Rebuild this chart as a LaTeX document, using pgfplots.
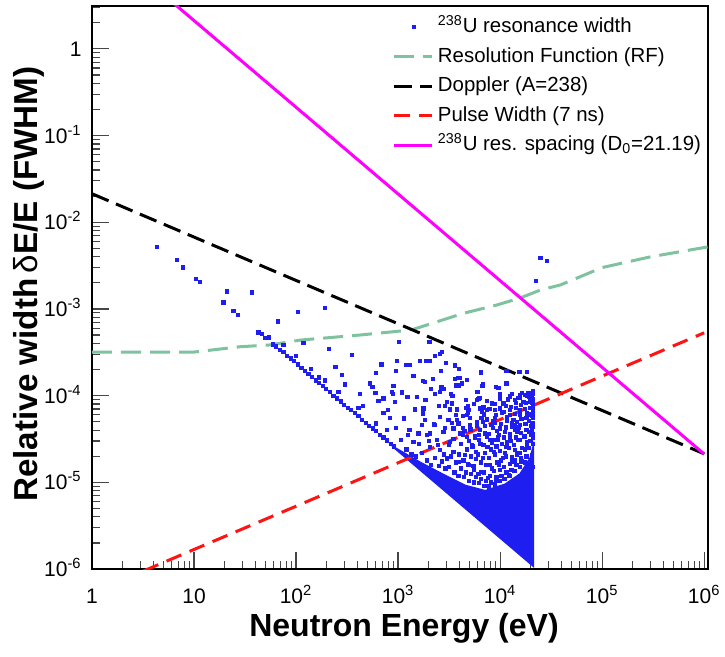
\documentclass[border=0pt]{standalone}
\usepackage{fontspec}
\setmainfont{Liberation Sans}
\usepackage{pgfplots}
\pgfplotsset{compat=1.18}
\definecolor{ptblue}{RGB}{30,30,240}
\definecolor{rfgreen}{RGB}{127,194,160}
\definecolor{pulsered}{RGB}{255,20,20}
\definecolor{spmag}{RGB}{255,0,255}
\definecolor{tickgray}{RGB}{70,70,70}
\pgfplotsset{
  linelegend/.style={legend image code/.code={\draw[##1] (0pt,0pt) -- (19pt,0pt);}},
  dotlegend/.style={legend image code/.code={\draw[##1] plot coordinates {(9.5pt,0pt)};}},
}
\begin{document}
\begin{tikzpicture}
\begin{axis}[
  scale only axis, width=308pt, height=281.5pt,
  xmode=log, ymode=log,
  xmin=1, xmax=1.09e6, ymin=1e-6, ymax=3.12,
  axis line style={line width=0.7pt},
  tickwidth=8.5pt, subtickwidth=4.2pt,
  tick align=inside, tick pos=left,
  tick style={draw=tickgray, line width=0.6pt},
  xtick={1,10,100,1000,10000,100000,1000000},
  xticklabels={1,10,10\textsuperscript{2},10\textsuperscript{3},10\textsuperscript{4},10\textsuperscript{5},10\textsuperscript{6}},
  minor xtick={2,3,4,5,6,7,8,9,20,30,40,50,60,70,80,90,200,300,400,500,600,700,800,900,2000,3000,4000,5000,6000,7000,8000,9000,2e4,3e4,4e4,5e4,6e4,7e4,8e4,9e4,2e5,3e5,4e5,5e5,6e5,7e5,8e5,9e5},
  ytick={1e-6,1e-5,1e-4,1e-3,1e-2,1e-1,1},
  yticklabels={10\textsuperscript{-6},10\textsuperscript{-5},10\textsuperscript{-4},10\textsuperscript{-3},10\textsuperscript{-2},10\textsuperscript{-1},1},
  minor ytick={2e-6,3e-6,4e-6,5e-6,6e-6,7e-6,8e-6,9e-6,2e-5,3e-5,4e-5,5e-5,6e-5,7e-5,8e-5,9e-5,2e-4,3e-4,4e-4,5e-4,6e-4,7e-4,8e-4,9e-4,2e-3,3e-3,4e-3,5e-3,6e-3,7e-3,8e-3,9e-3,0.02,0.03,0.04,0.05,0.06,0.07,0.08,0.09,0.2,0.3,0.4,0.5,0.6,0.7,0.8,0.9,2,3},
  tick label style={font=\fontsize{10.5pt}{12pt}\selectfont, inner sep=0pt},
  xticklabel style={anchor=base, yshift=-17pt},
  yticklabel style={anchor=base east, xshift=-5pt, yshift=-3.75pt},
  xlabel={Neutron Energy (eV)},
  ylabel={Relative width\,{\mdseries δ}E/E (FWHM)},
  every axis x label/.style={at={(axis description cs:0.5065,-0.119)}, anchor=base, font=\fontsize{16pt}{19pt}\selectfont\bfseries},
  every axis y label/.style={at={(axis description cs:-0.0877,0.506)}, rotate=90, anchor=base, font=\fontsize{16.6pt}{19pt}\selectfont\bfseries},
  linelegend,
  legend cell align=left,
  legend style={at={(rel axis cs:0.4886,0.9813)}, anchor=north west, draw=none, fill=none,
    inner sep=0pt, outer sep=0pt, row sep=4.25pt, column sep=2pt,
    nodes={inner sep=0pt, text height=8pt, text depth=2.5pt},
    font=\fontsize{10.2pt}{12pt}\selectfont},
]
% dense core of the resonance cloud
\addplot[forget plot, fill=ptblue, draw=ptblue, line width=0.8pt, no markers] coordinates {
 (873,2.62e-5) (1644,1.7e-5) (2891,1.2e-5) (4539,9.2e-6) (7129,8.0e-6)
 (11200,9.5e-6) (15700,1.25e-5) (19700,1.9e-5) (21100,2.6e-5) (21100,1.08e-6)} -- cycle;
\addplot[only marks, mark=square*, mark size=0.82pt, ptblue, line width=0.3pt, dotlegend] table {
x y
4.31 5.25e-3
6.77 3.7e-3
7.75 3.03e-3
10.4 2.24e-3
11.3 2.05e-3
19.4 1.19e-3
20.9 1.6e-3
24.3 9.5e-4
26.9 8.5e-4
36.8 1.56e-3
66 7.2e-4
104 9.2e-4
192 1.03e-3
22200 2.11e-3
24800 3.89e-3
28700 3.56e-3
42.7 5.39e-4
46.2 5.2e-4
50.1 4.6e-4
54.3 4.7e-4
58.9 3.9e-4
63.8 3.7e-4
69.2 3.4e-4
75.0 3.2e-4
81.3 2.9e-4
88.1 2.7e-4
95.5 2.5e-4
103.5 2.3e-4
112.2 2.1e-4
121.6 1.95e-4
131.8 1.8e-4
142.9 1.65e-4
154.9 1.5e-4
167.9 1.4e-4
182 1.3e-4
197.2 1.2e-4
213.8 1.1e-4
231.7 1.0e-4
251.2 9.3e-5
272.3 8.6e-5
295.1 7.9e-5
319.9 7.3e-5
346.7 6.8e-5
375.8 6.3e-5
407.4 5.8e-5
441.6 5.3e-5
478.6 4.9e-5
518.8 4.5e-5
562.3 4.2e-5
609.5 3.9e-5
660.7 3.55e-5
716.1 3.3e-5
776.2 3.05e-5
841.4 2.8e-5
912 2.6e-5
75 3.83e-4
100 2.9e-4
140 2.05e-4
190 1.5e-4
260 1.1e-4
400 7.2e-5
600 4.8e-5
118 4.07e-4
211 3.45e-4
354 2.94e-4
243 2.15e-4
281 1.73e-4
302 1.35e-4
168 1.63e-4
418 1.04e-4
686 2.3e-4
608 1.84e-4
531 1.39e-4
560 1.27e-4
599 1.08e-4
641 8.7e-5
718 9.3e-5
451 7.6e-5
408 7.3e-5
718 6.35e-5
1023 4.19e-4
2027 4.19e-4
2680 3.21e-4
2581 3.02e-4
971 2.51e-4
1197 2.27e-4
1311 2.27e-4
1644 2.53e-4
1883 2.53e-4
2060 2.53e-4
2306 2.87e-4
2956 2.39e-4
949 1.92e-4
2641 1.92e-4
3963 2.04e-4
6471 1.86e-4
15450 1.89e-4
18300 1.89e-4
1413 1.68e-4
2188 1.57e-4
3849 1.61e-4
4055 1.62e-4
4677 1.51e-4
1742 1.49e-4
1840 1.44e-4
6700 1.3e-4
9141 1.27e-4
11460 1.39e-4
899 1.3e-4
2658 1.25e-4
2780 1.19e-4
3704 1.32e-4
3937 1.32e-4
2107 1.2e-4
867 1.11e-4
888 1.05e-4
1087 1.09e-4
2581 1.11e-4
5987 1.11e-4
729 9.47e-5
1233 9.7e-5
1524 9.7e-5
1853 8.9e-5
3004 8.5e-5
3360 8.15e-5
4822 7.66e-5
5907 8.9e-5
7413 8.7e-5
8298 8.15e-5
10000 9.3e-5
935 8.5e-5
1459 6.95e-5
1771 7.15e-5
2523 7.6e-5
2891 7.6e-5
3758 6.95e-5
4888 6.83e-5
6367 7.15e-5
6855 7.33e-5
8933 6.83e-5
13100 1.04e-4
15000 9.4e-5
16400 1.07e-4
18400 9.9e-5
20100 1.07e-4
19700 8.9e-5
14000 8.9e-5
3597 2.23e-4
11460 1.94e-4
3622 1.55e-4
4178 1.39e-4
3899 1.29e-4
6761 1.35e-4
9616 1.23e-4
2306 1.04e-4
3287 1.04e-4
3405 9.9e-5
15700 1.02e-4
18900 1.06e-4
4642 8.9e-5
6124 9.14e-5
10760 8.15e-5
11800 9.06e-5
14350 8.28e-5
16900 8.5e-5
1742 6.25e-5
3236 6.95e-5
2581 5.71e-5
4296 5.82e-5
4710 5.97e-5
6607 6.52e-5
7413 6.83e-5
10000 7.15e-5
12530 6.83e-5
15700 6.83e-5
18300 6.25e-5
3112 5.24e-5
3360 4.87e-5
5082 4.58e-5
5912 5.0e-5
7413 5.33e-5
8590 5.13e-5
11640 5.71e-5
13500 5.24e-5
15700 5.97e-5
2060 3.67e-5
3483 4.2e-5
4055 3.67e-5
4710 3.36e-5
6367 4.01e-5
7129 3.67e-5
10000 4.2e-5
11200 3.83e-5
13020 4.38e-5
15700 4.58e-5
18300 4.01e-5
20500 4.8e-5
1146 5.47e-5
775 4.01e-5
949 4.27e-5
1062 3.08e-5
1291 4.01e-5
1413 2.94e-5
1581 3.67e-5
1706 4.58e-5
1910 3.51e-5
2060 2.58e-5
2254 4.67e-5
2395 3.08e-5
2581 2.36e-5
2780 3.83e-5
3004 1.89e-5
3236 2.94e-5
3483 2.25e-5
3899 1.73e-5
4306 3.51e-5
4539 2.07e-5
4888 1.58e-5
5309 2.69e-5
5821 2.24e-5
6223 3.08e-5
6808 1.91e-5
7464 2.55e-5
7980 1.58e-5
8730 2.24e-5
9354 3.08e-5
10000 1.39e-5
10700 1.91e-5
11460 2.55e-5
12250 1.21e-5
13120 1.71e-5
14030 2.36e-5
15000 3.08e-5
16070 1.91e-5
17180 1.31e-5
18400 2.69e-5
19680 1.58e-5
20600 2.07e-5
5559 1.39e-5
6516 1.31e-5
7628 1.12e-5
9141 1.06e-5
20140 3.51e-5
14690 3.8e-5
9550 3.33e-5
20900 2.8e-5
21000 3.6e-5
20700 4.4e-5
21000 5.5e-5
20800 6.6e-5
21000 7.8e-5
20500 9.6e-5
21000 1.12e-4
20300 1.9e-5
21000 1.5e-5
1840 5.24e-5
2306 4.58e-5
2891 4.23e-5
3786 5.24e-5
4336 4.23e-5
5082 5.52e-5
5689 3.42e-5
7980 3.08e-5
8531 4.23e-5
12530 3.24e-5
14030 4.58e-5
8933 5.52e-5
6808 4.96e-5
835 5.52e-5
798 6.83e-5
1200 2.4e-5
1350 2.1e-5
1500 2.0e-5
1700 2.2e-5
1900 1.8e-5
2100 1.6e-5
2300 1.9e-5
2500 1.55e-5
2700 1.75e-5
2900 1.45e-5
1250 3.5e-5
1600 2.8e-5
2000 3.0e-5
2450 2.7e-5
2800 2.1e-5
3150 1.5e-5
3280 2.0e-5
3120 2.7e-5
3550 1.3e-5
3700 1.7e-5
3480 3.2e-5
3650 6.0e-5
3900 1.2e-5
4100 1.45e-5
3950 2.1e-5
4150 2.8e-5
3880 4.8e-5
4400 1.15e-5
4600 1.3e-5
4350 1.8e-5
4700 2.4e-5
4450 3.9e-5
4650 7.2e-5
4900 1.05e-5
5150 1.25e-5
4850 1.65e-5
5200 2.0e-5
4950 3.0e-5
5100 4.1e-5
4800 6.3e-5
5500 1.0e-5
5750 1.15e-5
5450 1.55e-5
5800 1.85e-5
5350 2.6e-5
5650 3.3e-5
5900 4.5e-5
5500 8.1e-5
6200 9.8e-6
6450 1.1e-5
6100 1.25e-5
6500 1.7e-5
6050 2.1e-5
6400 2.8e-5
6150 3.5e-5
6550 5.6e-5
6250 9.5e-5
7000 9.2e-6
7250 1.05e-5
6900 1.3e-5
7300 1.6e-5
7050 2.2e-5
6850 2.7e-5
7350 3.4e-5
7100 4.5e-5
6950 6.1e-5
7800 9.0e-6
8150 1.0e-5
7900 1.2e-5
8250 1.45e-5
7700 1.9e-5
8100 2.4e-5
8300 2.9e-5
7750 3.6e-5
8200 4.6e-5
7850 7.0e-5
8800 9.5e-6
9200 1.15e-5
8700 1.35e-5
9300 1.7e-5
8900 2.1e-5
9150 2.6e-5
8650 3.1e-5
9250 3.9e-5
8850 4.9e-5
9100 6.0e-5
8750 8.0e-5
9800 1.05e-5
10300 1.2e-5
9700 1.6e-5
10200 1.8e-5
9900 2.3e-5
10400 2.8e-5
9750 3.5e-5
10100 4.7e-5
10350 6.3e-5
9850 1.05e-4
11000 1.1e-5
11500 1.3e-5
10900 1.5e-5
11400 2.0e-5
11100 2.2e-5
11600 2.9e-5
10850 3.3e-5
11300 4.3e-5
11550 5.2e-5
10950 6.5e-5
11350 7.7e-5
12300 1.2e-5
12900 1.4e-5
12400 1.65e-5
13000 1.95e-5
12200 2.5e-5
12800 3.0e-5
12500 3.6e-5
12950 4.9e-5
12350 6.0e-5
12700 7.5e-5
12450 9.8e-5
13800 1.35e-5
14400 1.6e-5
13900 1.8e-5
14500 2.1e-5
13700 2.7e-5
14300 3.3e-5
14000 4.1e-5
14450 5.0e-5
13850 6.2e-5
14250 7.3e-5
13950 9.0e-5
15500 1.5e-5
16100 1.75e-5
15400 2.2e-5
16200 2.5e-5
15600 3.1e-5
16000 3.7e-5
15300 4.3e-5
16150 5.4e-5
15550 6.4e-5
15900 7.8e-5
15450 9.5e-5
17400 1.7e-5
18100 2.0e-5
17500 2.4e-5
18200 2.9e-5
17300 3.4e-5
17900 4.0e-5
17600 4.7e-5
18050 5.6e-5
17450 7.0e-5
17850 8.3e-5
17550 1.03e-4
19200 2.5e-5
19800 3.0e-5
19300 3.8e-5
19900 4.5e-5
19100 5.1e-5
19600 6.1e-5
19400 7.2e-5
19750 8.5e-5
19250 9.8e-5
20800 3.3e-5
20600 4.0e-5
20900 4.9e-5
20700 5.9e-5
20950 7.0e-5
20650 8.2e-5
20850 9.1e-5
20750 1.05e-4
};
\addlegendentry{\textsuperscript{238}U resonance width}
\addplot[rfgreen, line width=1.5pt, dash pattern=on 10pt off 4.5pt, no markers] coordinates {
 (1,3.18e-4) (10,3.18e-4) (28,3.66e-4) (55,3.84e-4) (110,4.37e-4) (424,5.0e-4)
 (1050,5.56e-4) (1413,5.82e-4) (4365,8.9e-4) (9290,1.11e-3) (15800,1.34e-3)
 (24700,1.65e-3) (39000,1.89e-3) (100000,3.0e-3) (295000,3.98e-3) (1090000,5.2e-3)};
\addlegendentry{Resolution Function (RF)}
\addplot[black, line width=1.5pt, dash pattern=on 9pt off 4pt, no markers] coordinates {
 (1,0.0213) (10,6.74e-3) (100,2.13e-3) (1000,6.74e-4) (10000,2.13e-4) (100000,6.74e-5) (1000000,2.13e-5)};
\addlegendentry{Doppler (A=238)}
\addplot[pulsered, line width=1.5pt, dash pattern=on 8pt off 4.5pt, no markers] coordinates {
 (3.2,9.5e-7) (10,1.68e-6) (100,5.3e-6) (1000,1.68e-5) (10000,5.3e-5) (100000,1.68e-4) (1000000,5.3e-4)};
\addlegendentry{Pulse Width (7 ns)}
\addplot[spmag, line width=1.5pt, no markers] coordinates {
 (6,3.53) (10,2.119) (100,0.2119) (1000,2.119e-2) (10000,2.119e-3) (100000,2.119e-4) (1000000,2.119e-5)};
\addlegendentry{\textsuperscript{238}U res. spacing (D\textsubscript{0}=21.19)}
\end{axis}
\pgfresetboundingbox
\path[use as bounding box] ([xshift=-46pt,yshift=-43.5pt]current axis.south west) rectangle ([xshift=8.5pt,yshift=3pt]current axis.north east);
\end{tikzpicture}
\end{document}
